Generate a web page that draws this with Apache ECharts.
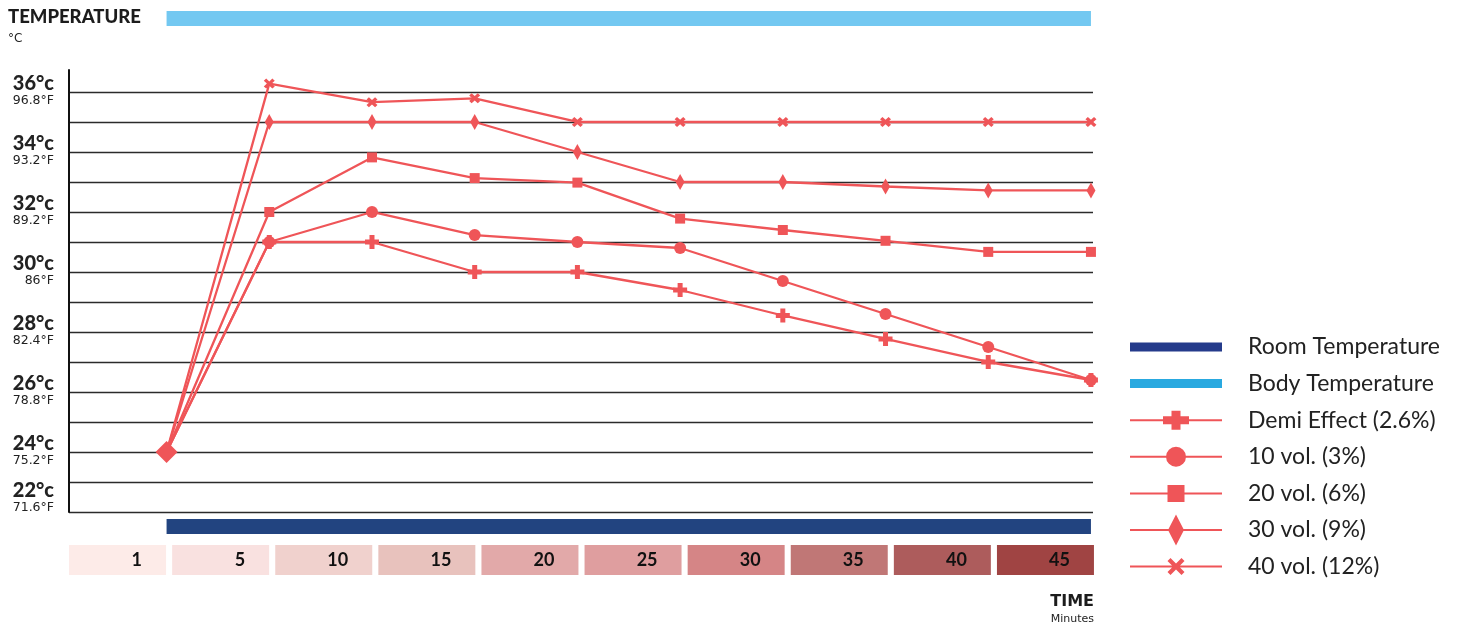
<!DOCTYPE html>
<html><head><meta charset="utf-8">
<script src="https://cdn.jsdelivr.net/npm/echarts@6/dist/echarts.min.js"></script>
<style>html,body{margin:0;padding:0;background:#fff}#c{width:1461px;height:626px}</style>
</head><body><div id="c"></div>
<script>
// ---- data ----
const categories = ['1', '5', '10', '15', '20', '25', '30', '35', '40', '45'];
const demiEffect = [24, 31, 31, 30, 30, 29.4, 28.55, 27.77, 27.0, 26.4];
const vol10 = [24, 31, 32, 31.23, 31.0, 30.8, 29.7, 28.6, 27.5, 26.4];
const vol20 = [24, 32, 33.82, 33.13, 32.98, 31.78, 31.4, 31.04, 30.67, 30.67];
const vol30 = [24, 35, 35, 35, 34, 33, 33, 32.85, 32.72, 32.72];
const vol40 = [24, 36.28, 35.66, 35.79, 35, 35, 35, 35, 35, 35];
const yTicksC = [22, 24, 26, 28, 30, 32, 34, 36];
const yTicksF = ['71.6°F', '75.2°F', '78.8°F', '82.4°F', '86°F', '89.2°F', '93.2°F', '96.8°F'];
const boxColors = ['#fdebe8', '#f9e1e0', '#f0d1cd', '#e8c2bd', '#e2a9a9', '#df9e9f', '#d58586', '#c07776', '#ad5c5c', '#a04443'];

const RED = '#ef5558';
const span = [0, categories.length - 1];
const bandData = span.map(i => [i, 0.5]);

const toPts = (arr, first) => arr.map((v, i) => i === 0 ? Object.assign({ value: [i, v] }, first || { symbol: 'none' }) : [i, v]);

const plusSym = 'path://M0 4.5L14 4.5L14 9.5L0 9.5Z M4.5 0L9.5 0L9.5 14L4.5 14Z';
const xSym = 'path://M2.2 0L5 2.8L7.8 0L10 2.2L7.2 5L10 7.8L7.8 10L5 7.2L2.2 10L0 7.8L2.8 5L0 2.2Z';

// legend icons (113 x 32 box)
const box = 'M0 0 M113 32 ';
const lineR = 'M0 15L92 15L92 17L0 17Z ';
const icons = {
  room: 'path://' + box + 'M0 11.5L92 11.5L92 20.5L0 20.5Z',
  body: 'path://' + box + 'M0 11.5L92 11.5L92 20.5L0 20.5Z',
  plus: 'path://' + box + lineR + 'M33 12L59 12L59 20L33 20Z M41.5 6.5L50.5 6.5L50.5 25.5L41.5 25.5Z',
  circle: 'path://' + box + lineR + 'M36 16A10 10 0 1 1 56 16A10 10 0 1 1 36 16Z',
  square: 'path://' + box + lineR + 'M37.5 7.5L54.5 7.5L54.5 24.5L37.5 24.5Z',
  diamond: 'path://' + box + lineR + 'M46 0.5L54 16L46 31.5L38 16Z',
  x: 'path://' + box + lineR + 'M40.5 7.5L46 13L51.5 7.5L54.5 10.5L49 16L54.5 21.5L51.5 24.5L46 19L40.5 24.5L37.5 21.5L43 16L37.5 10.5Z'
};

const rich = {};
boxColors.forEach((c, i) => {
  rich['b' + i] = {
    width: 73, height: 30, lineHeight: 30, padding: [0, 24, 0, 0], align: 'right',
    backgroundColor: c, fontFamily: 'Lato', fontWeight: 'bold', fontSize: 18, color: '#111'
  };
});

const hiddenX = (g) => ({ type: 'value', gridIndex: g, min: -0.95, max: 9.02, show: false });
const hiddenY = (g) => ({ type: 'value', gridIndex: g, min: 0, max: 1, show: false });

const lineSeries = (name, arr, symbol, size, first) => ({
  name, type: 'line', xAxisIndex: 0, yAxisIndex: 0,
  data: toPts(arr, first), symbol, symbolSize: size,
  itemStyle: { color: RED }, lineStyle: { color: RED, width: 2.3 },
  emphasis: { disabled: true }, animation: false
});

const option = {
  animation: false,
  title: [
    { text: 'TEMPERATURE', subtext: '°C', left: 8, top: 8, padding: 0, itemGap: 6,
      textStyle: { fontFamily: 'Lato', fontWeight: 900, fontSize: 18.5, color: '#1c1c1c' },
      subtextStyle: { fontFamily: 'DejaVu Sans', fontSize: 12, color: '#222' } },
    { text: 'TIME', subtext: 'Minutes', left: 1094, top: 594, padding: 0, itemGap: 4, textAlign: 'right',
      textStyle: { fontFamily: 'DejaVu Sans', fontWeight: 'bold', fontSize: 16, color: '#1c1c1c' },
      subtextStyle: { fontFamily: 'DejaVu Sans', fontSize: 11, color: '#222' } }
  ],
  legend: {
    orient: 'vertical', left: 1130, top: 331, padding: 0,
    itemWidth: 113, itemHeight: 32, itemGap: 4.6, selectedMode: false,
    itemStyle: { borderWidth: 0 },
    textStyle: { fontFamily: 'Lato', fontSize: 23, color: '#222' },
    data: [
      { name: 'Room Temperature', icon: icons.room, itemStyle: { color: '#253b8b' } },
      { name: 'Body Temperature', icon: icons.body, itemStyle: { color: '#29a9e0' } },
      { name: 'Demi Effect (2.6%)', icon: icons.plus },
      { name: '10 vol. (3%)', icon: icons.circle },
      { name: '20 vol. (6%)', icon: icons.square },
      { name: '30 vol. (9%)', icon: icons.diamond },
      { name: '40 vol. (12%)', icon: icons.x }
    ]
  },
  grid: [
    { left: 69, right: 368, top: 70, bottom: 114, outerBoundsMode: 'none' },
    { left: 69, right: 368, top: 11, height: 15, outerBoundsMode: 'none' },
    { left: 69, right: 368, top: 519, height: 15, outerBoundsMode: 'none' },
    { left: 66, right: 364, top: 530, height: 15, outerBoundsMode: 'none' }
  ],
  xAxis: [
    hiddenX(0), hiddenX(1), hiddenX(2),
    { type: 'category', gridIndex: 3, data: categories, boundaryGap: true,
      axisLine: { show: false }, axisTick: { show: false }, splitLine: { show: false },
      axisLabel: { interval: 0, margin: 0, formatter: (v, i) => '{b' + i + '|' + v + '}', rich } }
  ],
  yAxis: [
    { type: 'value', gridIndex: 0, min: 22, max: 36.733, interval: 1,
      axisLine: { show: true, onZero: false, lineStyle: { color: '#111', width: 2 } },
      axisTick: { show: false },
      splitLine: { show: true, showMaxLine: false, lineStyle: { color: '#2b2b2b', width: 1.3 } },
      axisLabel: {
        margin: 15, showMaxLabel: false,
        formatter: (v) => {
          const i = yTicksC.indexOf(v);
          if (i < 0) return '';
          const t = '{c|' + v + '°c}\n{f|' + yTicksF[i] + '}';
          return i === 0 ? t + '\n{s| }' : t;
        },
        rich: {
          c: { fontFamily: 'Lato', fontWeight: 900, fontSize: 20, lineHeight: 18, color: '#222', align: 'right' },
          f: { fontFamily: 'DejaVu Sans', fontSize: 12.5, lineHeight: 16, color: '#222', align: 'right' },
          s: { fontSize: 10, lineHeight: 27 }
        }
      } },
    hiddenY(1), hiddenY(2), hiddenY(3)
  ],
  series: [
    { name: 'Body Temperature', type: 'line', xAxisIndex: 1, yAxisIndex: 1, data: bandData,
      symbol: 'none', clip: false, silent: true, itemStyle: { color: '#73c8f1' },
      lineStyle: { color: '#73c8f1', width: 15, cap: 'butt' } },
    { name: 'Room Temperature', type: 'line', xAxisIndex: 2, yAxisIndex: 2, data: bandData,
      symbol: 'none', clip: false, silent: true, itemStyle: { color: '#224480' },
      lineStyle: { color: '#224480', width: 15, cap: 'butt' } },
    lineSeries('Demi Effect (2.6%)', demiEffect, plusSym, 14),
    lineSeries('10 vol. (3%)', vol10, 'circle', 12),
    lineSeries('20 vol. (6%)', vol20, 'rect', 10),
    lineSeries('40 vol. (12%)', vol40, xSym, [11, 10]),
    lineSeries('30 vol. (9%)', vol30, 'diamond', [9, 16], { symbol: 'diamond', symbolSize: 22 })
  ]
};

const chart = echarts.init(document.getElementById('c'), null, { renderer: 'canvas' });
chart.setOption(option);
</script>
</body></html>
